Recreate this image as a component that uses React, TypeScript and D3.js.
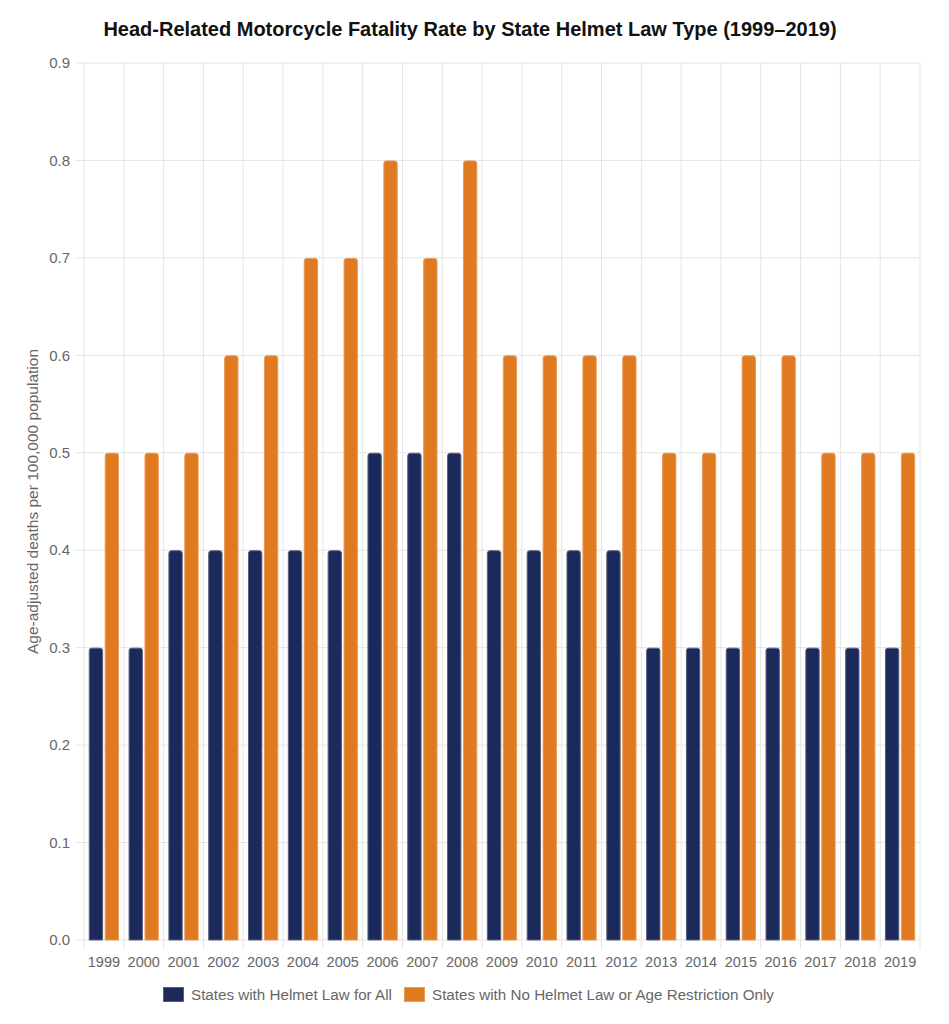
import React from 'react';
import * as d3 from 'd3';

const years = ['1999', '2000', '2001', '2002', '2003', '2004', '2005', '2006', '2007', '2008', '2009', '2010', '2011', '2012', '2013', '2014', '2015', '2016', '2017', '2018', '2019'];
const helmetAll = [0.3, 0.3, 0.4, 0.4, 0.4, 0.4, 0.4, 0.5, 0.5, 0.5, 0.4, 0.4, 0.4, 0.4, 0.3, 0.3, 0.3, 0.3, 0.3, 0.3, 0.3];
const noHelmet = [0.5, 0.5, 0.5, 0.6, 0.6, 0.7, 0.7, 0.8, 0.7, 0.8, 0.6, 0.6, 0.6, 0.6, 0.5, 0.5, 0.6, 0.6, 0.5, 0.5, 0.5];
const seriesNames = ['States with Helmet Law for All', 'States with No Helmet Law or Age Restriction Only'];
const yTicks = [0, 0.1, 0.2, 0.3, 0.4, 0.5, 0.6, 0.7, 0.8, 0.9];

const W = 949;
const H = 1024;
const margin = { top: 63, right: 29, bottom: 84, left: 84 };
const colors = ['#1b2a5a', '#e07a21'];
const borders = ['#56607f', '#eb9a55'];
const font = '"Liberation Sans", Arial, Helvetica, sans-serif';

// bar path with rounded top corners only
const barPath = (x: number, y: number, w: number, h: number, r: number) => {
  const rr = Math.min(r, w / 2, h);
  return `M${x},${y + h}V${y + rr}Q${x},${y} ${x + rr},${y}H${x + w - rr}Q${x + w},${y} ${x + w},${y + rr}V${y + h}Z`;
};

const App: React.FC = () => {
  const left = margin.left;
  const right = W - margin.right;
  const top = margin.top;
  const bottom = H - margin.bottom;

  const x0 = d3.scaleBand().domain(years).range([left, right]).padding(0);
  const bw = x0.bandwidth();
  // Chart.js style: category 80%, bar 90%
  const x1 = d3.scaleBand().domain(seriesNames).range([bw * 0.1, bw * 0.9]).padding(0);
  const barW = x1.bandwidth() * 0.9;
  const y = d3.scaleLinear().domain([0, 0.9]).range([bottom, top]);
  const fmt = d3.format('.1f');

  const series = [helmetAll, noHelmet];

  return (
    <svg width={W} height={H} style={{ position: 'absolute', left: 0, top: 0, background: '#fff' }} fontFamily={font}>
      <text x={470} y={36} textAnchor="middle" fontSize={20} fontWeight="bold" fill="#111">
        Head-Related Motorcycle Fatality Rate by State Helmet Law Type (1999–2019)
      </text>

      {/* horizontal grid */}
      {yTicks.map((t) => (
        <g key={t}>
          <line x1={left - 9} x2={right} y1={y(t)} y2={y(t)} stroke="#e5e5e5" strokeWidth={1} />
          <text x={left - 14} y={y(t)} dy="0.35em" textAnchor="end" fontSize={15} fill="#666">
            {fmt(t)}
          </text>
        </g>
      ))}

      {/* vertical grid at category boundaries */}
      {[...years.map((yr) => x0(yr) as number), right].map((gx, i) => (
        <line key={i} x1={gx} x2={gx} y1={top} y2={bottom + 9} stroke="#e5e5e5" strokeWidth={1} />
      ))}

      {/* bars */}
      {years.map((yr, i) => (
        <g key={yr} transform={`translate(${x0(yr)},0)`}>
          {series.map((s, j) => {
            const bx = (x1(seriesNames[j]) as number) + x1.bandwidth() * 0.05;
            const by = y(s[i]);
            return (
              <path
                key={j}
                d={barPath(bx + 0.5, by + 0.5, barW - 1, bottom - by - 0.5, 2.5)}
                fill={colors[j]}
                stroke={borders[j]}
                strokeWidth={1}
              />
            );
          })}
          <text x={bw / 2} y={bottom + 27} textAnchor="middle" fontSize={14.5} fill="#666">
            {yr}
          </text>
        </g>
      ))}

      {/* y axis title */}
      <text
        transform={`translate(38,${(top + bottom) / 2}) rotate(-90)`}
        textAnchor="middle"
        fontSize={15.5}
        fill="#666"
      >
        Age-adjusted deaths per 100,000 population
      </text>

      {/* legend */}
      {[163, 404].map((lx, j) => (
        <g key={j} transform={`translate(${lx},987)`}>
          <rect x={0.5} y={0.5} width={20} height={14} fill={colors[j]} stroke={borders[j]} strokeWidth={1} />
          <text x={28} y={7.5} dy="0.35em" fontSize={15.2} fill="#666">
            {seriesNames[j]}
          </text>
        </g>
      ))}
    </svg>
  );
};

export default App;
